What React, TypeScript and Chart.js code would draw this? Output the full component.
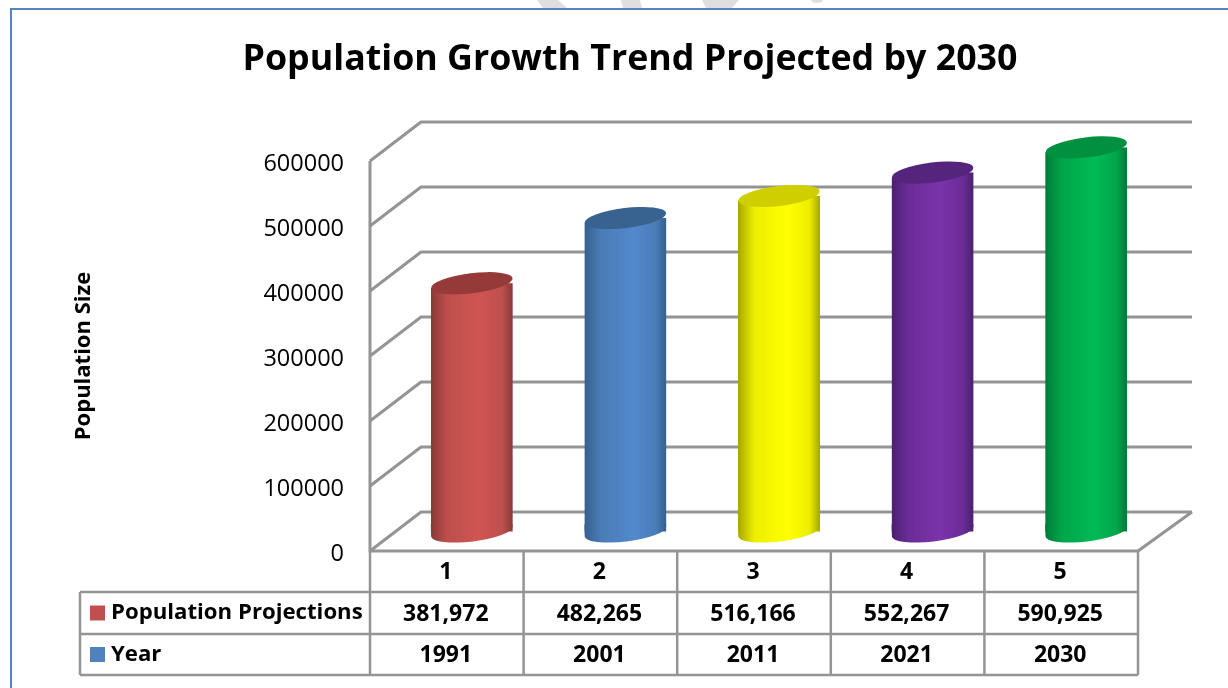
import React, { useEffect, useRef } from "react";
import { Chart, registerables } from "chart.js";

Chart.register(...registerables);

const categories = ["1", "2", "3", "4", "5"];
const projections = [381972, 482265, 516166, 552267, 590925];
const years = ["1991", "2001", "2011", "2021", "2030"];
const seriesNames = ["Population Projections", "Year"];
const seriesKeys = ["#C0504D", "#4F81BD"];
const yTicks = [0, 100000, 200000, 300000, 400000, 500000, 600000];

const edgeColors = ["#8a3836", "#365f8e", "#a6a600", "#4a2070", "#007a37"];
const midColors = ["#bd4f4c", "#4a7cb6", "#eeee00", "#6a2c96", "#00a54b"];
const lightColors = ["#cf5552", "#5289cc", "#ffff00", "#7a33ab", "#00bb55"];
const capColors = ["#953a38", "#38628f", "#cfcf00", "#55247d", "#00903f"];

const FONT = "'Open Sans', sans-serif";
const LINE = "#949494";
const DEPTH_X = 51;
const DEPTH_Y = 39;
const TILT = (-7 * Math.PI) / 180;
const CAP_RY = 10;
const BAR_SHARE = 0.534;

function bodyGradient(ctx: CanvasRenderingContext2D, cx: number, half: number, i: number) {
  const g = ctx.createLinearGradient(cx - half, 0, cx + half, 0);
  g.addColorStop(0, edgeColors[i]);
  g.addColorStop(0.2, midColors[i]);
  g.addColorStop(0.6, lightColors[i]);
  g.addColorStop(0.87, midColors[i]);
  g.addColorStop(1, edgeColors[i]);
  return g;
}

// Page furniture behind the chart: frame and the faded mark along the top edge.
const framePlugin = {
  id: "frame",
  beforeDraw(chart: any) {
    const c = chart.ctx;
    c.save();
    c.fillStyle = "#dfdfdf";
    const bands = [
      [537, 558, 567, 543],
      [621, 640, 642, 623],
      [702, 739, 732, 706],
    ];
    for (const [a, b, d, e] of bands) {
      c.beginPath();
      c.moveTo(a, 0);
      c.lineTo(b, 0);
      c.lineTo(d, 8);
      c.lineTo(e, 8);
      c.closePath();
      c.fill();
    }
    c.beginPath();
    c.ellipse(817, 0, 6, 3, 0, 0, Math.PI * 2);
    c.fill();
    c.strokeStyle = "#5585c4";
    c.lineWidth = 2;
    c.beginPath();
    c.moveTo(11, 688);
    c.lineTo(11, 9);
    c.lineTo(1228, 9);
    c.stroke();
    c.restore();
  },
};

// Perspective walls and floor, keyed off the value axis, then the cylinder bodies' clip.
const cylinderPlugin = {
  id: "cylinders",
  beforeDatasetsDraw(chart: any) {
    const c = chart.ctx;
    const y = chart.scales.y;
    const { left, right } = chart.chartArea;
    const frontL = left - 25;
    const frontR = right - 25;
    c.save();
    c.strokeStyle = LINE;
    c.lineWidth = 3;
    c.lineJoin = "round";
    for (const v of yTicks) {
      const py = y.getPixelForValue(v);
      c.beginPath();
      c.moveTo(frontL, py);
      c.lineTo(frontL + DEPTH_X, py - DEPTH_Y);
      c.lineTo(frontR + 54, py - DEPTH_Y);
      c.stroke();
    }
    const y0 = y.getPixelForValue(0);
    c.beginPath();
    c.moveTo(frontL, y.getPixelForValue(600000));
    c.lineTo(frontL, y0);
    c.lineTo(frontR, y0);
    c.lineTo(frontR + 54, y0 - DEPTH_Y);
    c.stroke();
    c.restore();

    // Body corners above the top cap's tilted axis are cut away.
    const meta = chart.getDatasetMeta(0);
    const slope = Math.tan(TILT);
    c.save();
    c.beginPath();
    meta.data.forEach((bar: any) => {
      const half = bar.width / 2;
      c.moveTo(bar.x - half, bar.y - slope * half);
      c.lineTo(bar.x + half, bar.y + slope * half);
      c.lineTo(bar.x + half, bar.base + 1);
      c.lineTo(bar.x - half, bar.base + 1);
      c.closePath();
    });
    c.clip();
  },
  afterDatasetsDraw(chart: any) {
    const c = chart.ctx;
    c.restore();
    const meta = chart.getDatasetMeta(0);
    meta.data.forEach((bar: any, i: number) => {
      const half = bar.width / 2;
      c.save();
      // Rounded foot: lower half of the base ellipse, joined up into the body.
      c.fillStyle = bodyGradient(c, bar.x, half, i);
      c.beginPath();
      c.ellipse(bar.x, bar.base, half, CAP_RY, TILT, 0, Math.PI);
      c.lineTo(bar.x - half, bar.base - 7);
      c.lineTo(bar.x + half, bar.base - 7);
      c.closePath();
      c.fill();
      c.fillStyle = capColors[i];
      c.beginPath();
      c.ellipse(bar.x, bar.y, half, CAP_RY, TILT, 0, Math.PI * 2);
      c.fill();
      c.restore();
    });
    drawTable(chart);
  },
};

// Data table under the axis; its columns follow the front edge of the floor.
function drawTable(chart: any) {
  const c = chart.ctx;
  const y0 = chart.scales.y.getPixelForValue(0);
  const { left, right } = chart.chartArea;
  const frontL = left - 25;
  const colW = (right - left) / categories.length;
  const rowTops = [y0, 592, 634, 675];
  const keyLeft = 80;
  c.save();
  c.strokeStyle = LINE;
  c.lineWidth = 2.5;
  for (let r = 1; r < rowTops.length; r++) {
    c.beginPath();
    c.moveTo(keyLeft, rowTops[r]);
    c.lineTo(frontL + colW * categories.length, rowTops[r]);
    c.stroke();
  }
  for (let k = 0; k <= categories.length; k++) {
    c.beginPath();
    c.moveTo(frontL + colW * k, y0);
    c.lineTo(frontL + colW * k, rowTops[3]);
    c.stroke();
  }
  c.beginPath();
  c.moveTo(keyLeft, rowTops[1]);
  c.lineTo(keyLeft, rowTops[3]);
  c.stroke();

  c.fillStyle = "#000";
  c.font = `bold 23px ${FONT}`;
  c.textBaseline = "middle";
  c.textAlign = "center";
  const rows = [categories, projections.map((v) => v.toLocaleString("en-US")), years];
  rows.forEach((row, r) => {
    const cy = (rowTops[r] + rowTops[r + 1]) / 2 + 1;
    row.forEach((t, k) => c.fillText(t, frontL + colW * (k + 0.5) - 1, cy));
  });
  c.font = `bold 22.2px ${FONT}`;
  c.textAlign = "left";
  seriesNames.forEach((name, r) => {
    const cy = (rowTops[r + 1] + rowTops[r + 2]) / 2;
    c.fillStyle = seriesKeys[r];
    c.fillRect(90, cy - 7.5, 15, 15);
    c.fillStyle = "#000";
    c.fillText(name, 111, cy);
  });
  c.restore();
}

export default function App() {
  const ref = useRef<HTMLCanvasElement>(null);
  useEffect(() => {
    const chart = new Chart(ref.current!, {
      type: "bar",
      data: {
        labels: categories,
        datasets: [
          {
            label: seriesNames[0],
            data: projections,
            yAxisID: "y2",
            clip: false,
            barPercentage: BAR_SHARE,
            categoryPercentage: 1,
            borderWidth: 0,
            backgroundColor: (ctx: any) => {
              const ch = ctx.chart;
              if (!ch.chartArea) return midColors[ctx.dataIndex];
              const cx = ch.scales.x.getPixelForValue(ctx.dataIndex);
              const half = ((ch.chartArea.right - ch.chartArea.left) / categories.length) * BAR_SHARE * 0.5;
              return bodyGradient(ch.ctx, cx, half, ctx.dataIndex);
            },
          },
        ],
      },
      options: {
        responsive: false,
        animation: false,
        layout: { padding: { left: 60, right: 28, top: 0, bottom: 137 } },
        plugins: {
          legend: { display: false },
          tooltip: { enabled: false },
          title: {
            display: true,
            text: "Population Growth Trend Projected by 2030",
            color: "#000",
            font: { family: FONT, size: 35.75, weight: "bold", lineHeight: 1.2 },
            padding: { top: 38, bottom: 80.1 },
          },
        },
        scales: {
          x: { display: false, offset: true, grid: { display: false } },
          y: {
            position: "left",
            min: 0,
            max: 600000,
            afterFit: (s: any) => {
              s.width = 335;
            },
            grid: { display: false, drawTicks: false },
            border: { display: false },
            ticks: {
              stepSize: 100000,
              padding: 51,
              labelOffset: 3,
              color: "#000",
              font: { family: FONT, size: 23.5 },
              callback: (v: any) => String(v),
            },
            title: {
              display: true,
              text: "Population Size",
              color: "#000",
              font: { family: FONT, size: 22, weight: "bold", lineHeight: 1.2 },
              padding: { top: 11, bottom: 0 },
            },
          },
          y2: {
            position: "right",
            min: -30000,
            max: 570000,
            afterFit: (s: any) => {
              s.width = 37;
            },
            grid: { display: false, drawTicks: false },
            border: { display: false },
            ticks: { display: false, stepSize: 100000 },
          },
        },
      },
      plugins: [framePlugin, cylinderPlugin],
    } as any);
    return () => chart.destroy();
  }, []);
  return (
    <canvas
      ref={ref}
      width={1228}
      height={688}
      style={{ position: "fixed", left: 0, top: 0, display: "block" }}
    />
  );
}
